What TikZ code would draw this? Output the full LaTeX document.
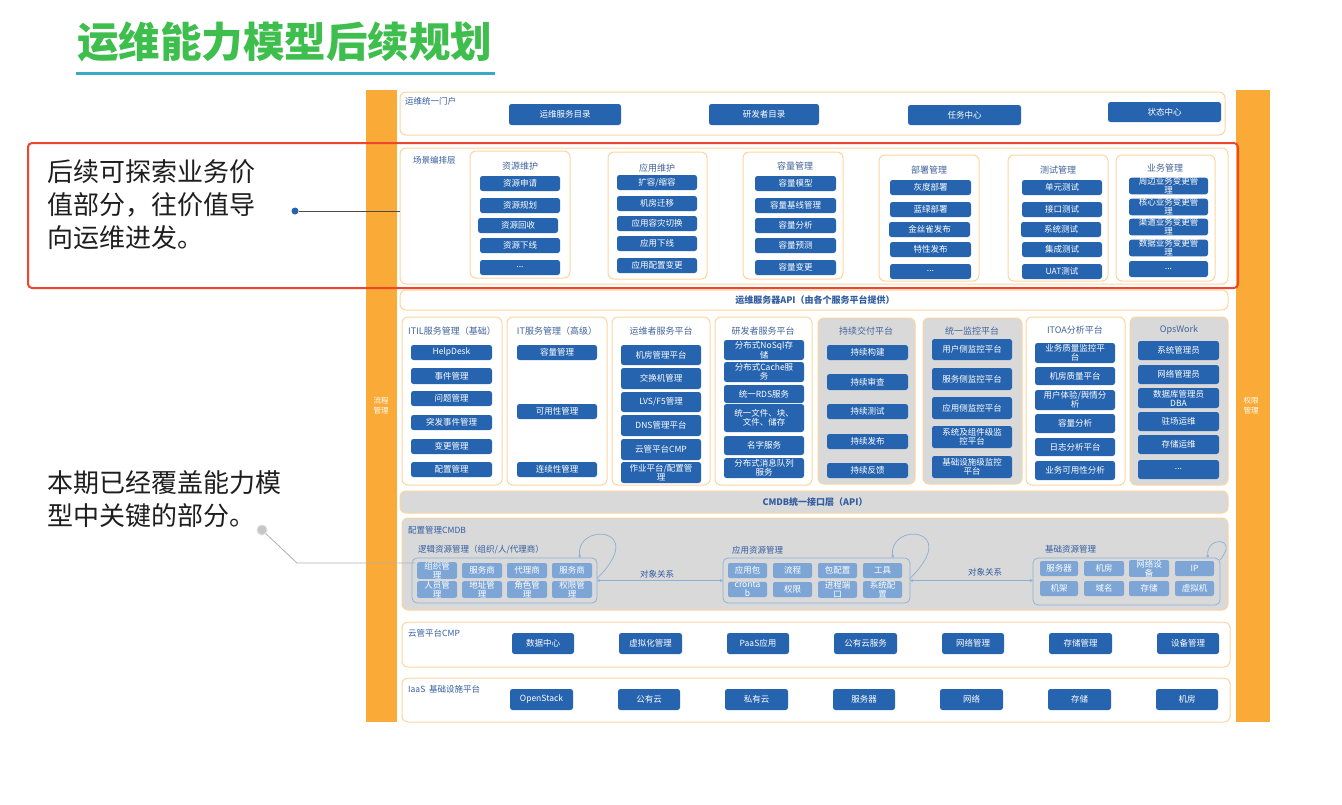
\documentclass[tikz,border=0pt]{standalone}
\usepackage{fontspec}
\setmainfont{Noto Sans CJK SC}
\usetikzlibrary{arrows.meta}
\definecolor{btnb}{RGB}{38,100,175}
\definecolor{lblue}{RGB}{125,166,215}
\definecolor{obord}{RGB}{252,213,158}
\definecolor{obar}{RGB}{250,170,55}
\definecolor{redf}{RGB}{238,70,45}
\definecolor{tgreen}{RGB}{62,190,76}
\definecolor{tline}{RGB}{55,170,200}
\definecolor{gfill}{RGB}{217,217,217}
\definecolor{labb}{RGB}{50,92,160}
\definecolor{loopc}{RGB}{140,175,215}
\definecolor{annot}{RGB}{30,30,30}
\newcommand\bx[7]{%
 \pgfmathsetmacro\cxx{(#3+#5)/2}\pgfmathsetmacro\cyy{(#4+#6)/2}%
 \pgfmathsetmacro\ww{#5-#3}\pgfmathsetmacro\hh{#6-#4}%
 \node[#1, minimum width=\ww pt, minimum height=\hh pt] (#2) at (\cxx,\cyy) {#7};}
\begin{document}
\begin{tikzpicture}[x=1pt,y=-1pt,
 layer/.style={draw=obord, line width=1pt, fill=white, rounded corners=6pt, inner sep=0, outer sep=0},
 glayer/.style={layer, fill=gfill},
 grp/.style={draw=obord, line width=1pt, fill=white, rounded corners=6pt, inner sep=0, outer sep=0},
 ggrp/.style={grp, fill=gfill},
 btn/.style={fill=btnb, rounded corners=2.5pt, text=white, font=\fontsize{8.5}{9}\selectfont, align=center, inner sep=0, outer sep=0},
 lbtn/.style={fill=lblue, rounded corners=2pt, text=white, font=\fontsize{8.5}{9}\selectfont, align=center, inner sep=0, outer sep=0},
 lbl/.style={text=labb, font=\fontsize{8.5}{10}\selectfont, anchor=west, inner sep=0},
 gtitle/.style={text=labb!80!gray, font=\fontsize{9}{10}\selectfont, inner sep=0},
 inbox/.style={draw=loopc, line width=0.7pt, rounded corners=5pt, inner sep=0, outer sep=0},
 rel/.style={draw=loopc, line width=0.7pt, {Stealth[length=3pt,width=3pt]}-{Stealth[length=3pt,width=3pt]}},
 selfarc/.style={draw=loopc, line width=0.7pt, {Stealth[length=3pt,width=3pt]}-},
 annottext/.style={anchor=base west, inner sep=0, text=annot, font=\fontsize{26}{30}\selectfont},
 bartext/.style={text=white, font=\fontsize{7.5}{10}\selectfont, align=center, inner sep=0}
]
\useasboundingbox (0,0) rectangle (1342,804);
\fill[white] (0,0) rectangle (1342,804);

% title
\node[anchor=base west, inner sep=0, text=tgreen, font=\fontsize{41.5}{44}\selectfont\bfseries] (title) at (77,57) {运维能力模型后续规划};
\draw[tline, line width=3pt] (76,73) -- (495,73);

% side bars
\bx{fill=obar, inner sep=0, outer sep=0}{lbar}{366}{90}{397}{722}{}
\bx{fill=obar, inner sep=0, outer sep=0}{rbar}{1236}{90}{1270}{722}{}
\node[bartext] (lbarT) at (381,406) {流程\\管理};
\node[bartext] (rbarT) at (1251,406) {权限\\管理};

% portal layer
\bx{layer}{portal}{400}{92}{1225}{135}{}
\node[lbl] (portalL) at (405,101) {运维统一门户};
\bx{btn}{p1}{509}{104}{621}{125}{运维服务目录}
\bx{btn}{p2}{709}{104}{819}{125}{研发者目录}
\bx{btn}{p3}{908}{105}{1021}{125}{任务中心}
\bx{btn}{p4}{1108}{102}{1221}{122}{状态中心}

% scene layer
\bx{layer}{scene}{400}{148}{1228}{284}{}
\node[lbl] (sceneL) at (413,160) {场景编排层};
% g1
\bx{grp}{g1}{470}{151}{570}{278}{}
\node[gtitle] (g1t) at (520,166) {资源维护};
\bx{btn}{g1a}{480}{176}{560}{191}{资源申请}
\bx{btn}{g1b}{480}{198}{560}{213}{资源规划}
\bx{btn}{g1c}{478}{218}{558}{233}{资源回收}
\bx{btn}{g1d}{480}{238}{560}{253}{资源下线}
\bx{btn}{g1e}{480}{260}{560}{275}{...}
% g2
\bx{grp}{g2}{608}{152}{707}{279}{}
\node[gtitle] (g2t) at (657,168) {应用维护};
\bx{btn}{g2a}{617}{175}{697}{190}{扩容/缩容}
\bx{btn}{g2b}{617}{196}{697}{211}{机房迁移}
\bx{btn}{g2c}{617}{216}{697}{231}{应用容灾切换}
\bx{btn}{g2d}{617}{236}{697}{251}{应用下线}
\bx{btn}{g2e}{617}{258}{697}{273}{应用配置变更}
% g3
\bx{grp}{g3}{743}{152}{843}{279}{}
\node[gtitle] (g3t) at (795,166) {容量管理};
\bx{btn}{g3a}{755}{176}{836}{191}{容量模型}
\bx{btn}{g3b}{755}{198}{836}{213}{容量基线管理}
\bx{btn}{g3c}{755}{218}{836}{233}{容量分析}
\bx{btn}{g3d}{755}{238}{836}{253}{容量预测}
\bx{btn}{g3e}{755}{260}{836}{275}{容量变更}
% g4
\bx{grp}{g4}{879}{155}{979}{281}{}
\node[gtitle] (g4t) at (929,170) {部署管理};
\bx{btn}{g4a}{890}{180}{971}{195}{灰度部署}
\bx{btn}{g4b}{890}{202}{971}{217}{蓝绿部署}
\bx{btn}{g4c}{889}{222}{970}{237}{金丝雀发布}
\bx{btn}{g4d}{890}{242}{971}{257}{特性发布}
\bx{btn}{g4e}{890}{264}{971}{279}{...}
% g5
\bx{grp}{g5}{1008}{155}{1108}{281}{}
\node[gtitle] (g5t) at (1058,170) {测试管理};
\bx{btn}{g5a}{1022}{180}{1102}{195}{单元测试}
\bx{btn}{g5b}{1022}{202}{1102}{217}{接口测试}
\bx{btn}{g5c}{1021}{222}{1101}{237}{系统测试}
\bx{btn}{g5d}{1022}{242}{1102}{257}{集成测试}
\bx{btn}{g5e}{1022}{264}{1102}{279}{UAT测试}
% g6
\bx{grp}{g6}{1116}{155}{1215}{281}{}
\node[gtitle] (g6t) at (1165,168) {业务管理};
\bx{btn}{g6a}{1129}{178}{1208}{194}{周边业务变更管\\理}
\bx{btn}{g6b}{1129}{199}{1208}{215}{核心业务变更管\\理}
\bx{btn}{g6c}{1129}{219}{1208}{235}{渠道业务变更管\\理}
\bx{btn}{g6d}{1129}{240}{1208}{256}{数据业务变更管\\理}
\bx{btn}{g6e}{1129}{261}{1208}{277}{...}

% API bar
\bx{layer}{api}{400}{290}{1228}{310}{}
\node[inner sep=0, text=labb, font=\fontsize{9}{10}\selectfont\bfseries] (apiT) at (815,300) {运维服务器API（由各个服务平台提供）};

% platform groups
\bx{grp}{q1}{402}{317}{502}{485}{}
\node[gtitle] (q1t) at (452,331) {ITIL服务管理（基础）};
\bx{btn}{q1a}{411}{345}{492}{360}{HelpDesk}
\bx{btn}{q1b}{411}{368}{492}{384}{事件管理}
\bx{btn}{q1c}{411}{391}{492}{406}{问题管理}
\bx{btn}{q1d}{411}{415}{492}{430}{突发事件管理}
\bx{btn}{q1e}{411}{439}{492}{454}{变更管理}
\bx{btn}{q1f}{411}{462}{492}{477}{配置管理}

\bx{grp}{q2}{507}{317}{607}{485}{}
\node[gtitle] (q2t) at (557,331) {IT服务管理（高级）};
\bx{btn}{q2a}{517}{345}{597}{360}{容量管理}
\bx{btn}{q2b}{517}{404}{597}{419}{可用性管理}
\bx{btn}{q2c}{517}{462}{597}{477}{连续性管理}

\bx{grp}{q3}{612}{317}{710}{485}{}
\node[gtitle] (q3t) at (661,331) {运维者服务平台};
\bx{btn}{q3a}{621}{345}{701}{365}{机房管理平台}
\bx{btn}{q3b}{621}{368}{701}{389}{交换机管理}
\bx{btn}{q3c}{621}{392}{701}{412}{LVS/F5管理}
\bx{btn}{q3d}{621}{415}{701}{436}{DNS管理平台}
\bx{btn}{q3e}{621}{439}{701}{460}{云管平台CMP}
\bx{btn}{q3f}{621}{462}{701}{483}{作业平台/配置管\\理}

\bx{grp}{q4}{715}{317}{812}{485}{}
\node[gtitle] (q4t) at (763,331) {研发者服务平台};
\bx{btn}{q4a}{724}{340}{804}{360}{分布式NoSql存\\储}
\bx{btn}{q4b}{724}{362}{804}{382}{分布式Cache服\\务}
\bx{btn}{q4c}{724}{385}{804}{403}{统一RDS服务}
\bx{btn}{q4d}{724}{404}{804}{432}{统一文件、块、\\文件、储存}
\bx{btn}{q4e}{724}{436}{804}{455}{名字服务}
\bx{btn}{q4f}{724}{458}{804}{478}{分布式消息队列\\服务}

\bx{ggrp}{q5}{818}{318}{915}{484}{}
\node[gtitle] (q5t) at (866,331) {持续交付平台};
\bx{btn}{q5a}{827}{345}{908}{360}{持续构建}
\bx{btn}{q5b}{827}{374}{908}{390}{持续审查}
\bx{btn}{q5c}{827}{404}{908}{419}{持续测试}
\bx{btn}{q5d}{827}{434}{908}{449}{持续发布}
\bx{btn}{q5e}{827}{463}{908}{478}{持续反馈}

\bx{ggrp}{q6}{923}{318}{1022}{484}{}
\node[gtitle] (q6t) at (972,331) {统一监控平台};
\bx{btn}{q6a}{932}{339}{1012}{360}{用户侧监控平台}
\bx{btn}{q6b}{932}{368}{1012}{390}{服务侧监控平台}
\bx{btn}{q6c}{932}{397}{1012}{419}{应用侧监控平台}
\bx{btn}{q6d}{932}{426}{1012}{448}{系统及组件级监\\控平台}
\bx{btn}{q6e}{932}{456}{1012}{478}{基础设施级监控\\平台}

\bx{grp}{q7}{1026}{317}{1125}{485}{}
\node[gtitle] (q7t) at (1075,330) {ITOA分析平台};
\bx{btn}{q7a}{1035}{343}{1115}{363}{业务质量监控平\\台}
\bx{btn}{q7b}{1035}{367}{1115}{385}{机房质量平台}
\bx{btn}{q7c}{1035}{390}{1115}{410}{用户体验/舆情分\\析}
\bx{btn}{q7d}{1035}{414}{1115}{433}{容量分析}
\bx{btn}{q7e}{1035}{438}{1115}{456}{日志分析平台}
\bx{btn}{q7f}{1035}{461}{1115}{480}{业务可用性分析}

\bx{ggrp}{q8}{1130}{317}{1228}{485}{}
\node[gtitle] (q8t) at (1179,330) {OpsWork};
\bx{btn}{q8a}{1138}{341}{1219}{360}{系统管理员}
\bx{btn}{q8b}{1138}{365}{1219}{384}{网络管理员}
\bx{btn}{q8c}{1138}{388}{1219}{408}{数据库管理员\\DBA}
\bx{btn}{q8d}{1138}{412}{1219}{431}{驻场运维}
\bx{btn}{q8e}{1138}{435}{1219}{454}{存储运维}
\bx{btn}{q8f}{1138}{460}{1219}{479}{...}

% CMDB API bar
\bx{glayer}{capi}{400}{491}{1228}{513}{}
\node[inner sep=0, text=labb, font=\fontsize{9}{10}\selectfont\bfseries] (capiT) at (815,502) {CMDB统一接口层（API）};

% CMDB layer
\bx{glayer}{cmdb}{402}{518}{1228}{610}{}
\node[lbl] (cmdbL) at (408,530) {配置管理CMDB};
\node[lbl] (logicL) at (418,550) {逻辑资源管理（组织/人/代理商）};
\node[lbl] (appL) at (732,550) {应用资源管理};
\node[lbl] (baseL) at (1045,549) {基础资源管理};
\bx{inbox}{logic}{412}{558}{597}{603}{}
\bx{inbox}{app}{723}{558}{910}{603}{}
\bx{inbox}{base}{1033}{558}{1220}{605}{}
% logic items
\bx{lbtn}{la1}{417}{563}{457}{578}{组织管\\理}
\bx{lbtn}{la2}{462}{563}{502}{578}{服务商}
\bx{lbtn}{la3}{507}{563}{547}{578}{代理商}
\bx{lbtn}{la4}{552}{563}{592}{578}{服务商}
\bx{lbtn}{lb1}{417}{582}{457}{597}{人员管\\理}
\bx{lbtn}{lb2}{462}{582}{502}{597}{地址管\\理}
\bx{lbtn}{lb3}{507}{582}{547}{597}{角色管\\理}
\bx{lbtn}{lb4}{552}{582}{592}{597}{权限管\\理}
% app items
\bx{lbtn}{aa1}{728}{563}{767}{578}{应用包}
\bx{lbtn}{aa2}{773}{563}{812}{578}{流程}
\bx{lbtn}{aa3}{818}{563}{857}{578}{包配置}
\bx{lbtn}{aa4}{863}{563}{902}{578}{工具}
\bx{lbtn}{ab1}{728}{582}{767}{597}{cronta\\b}
\bx{lbtn}{ab2}{773}{582}{812}{597}{权限}
\bx{lbtn}{ab3}{818}{582}{857}{597}{进程端\\口}
\bx{lbtn}{ab4}{863}{582}{902}{597}{系统配\\置}
% base items
\bx{lbtn}{ba1}{1040}{561}{1078}{576}{服务器}
\bx{lbtn}{ba2}{1084}{561}{1124}{576}{机房}
\bx{lbtn}{ba3}{1129}{561}{1169}{576}{网络设\\备}
\bx{lbtn}{ba4}{1175}{561}{1214}{576}{IP}
\bx{lbtn}{bb1}{1040}{581}{1078}{596}{机架}
\bx{lbtn}{bb2}{1084}{581}{1124}{596}{域名}
\bx{lbtn}{bb3}{1129}{581}{1169}{596}{存储}
\bx{lbtn}{bb4}{1175}{581}{1214}{596}{虚拟机}
% relations
\draw[rel] (logic.east) -- (app.west);
\draw[rel] (app.east) -- (base.west |- app.east);
\node[inner sep=0, text=labb, font=\fontsize{8.5}{10}\selectfont] (rel1) at (657,574) {对象关系};
\node[inner sep=0, text=labb, font=\fontsize{8.5}{10}\selectfont] (rel2) at (985,572) {对象关系};
% self loops
\draw[selfarc] ([xshift=-17pt]logic.north east) .. controls (574,522) and (650,526) .. ([yshift=2pt]logic.east);
\draw[selfarc] ([xshift=-17pt]app.north east) .. controls (887,522) and (963,526) .. ([yshift=2pt]app.east);
\draw[selfarc] ([xshift=-12pt]base.north east) .. controls (1205,536) and (1240,536) .. ([yshift=-2pt]base.north east);

% cloud layer
\bx{layer}{cloud}{402}{622}{1230}{667}{}
\node[lbl] (cloudL) at (408,633) {云管平台CMP};
\bx{btn}{c1}{512}{633}{574}{654}{数据中心}
\bx{btn}{c2}{619}{633}{682}{654}{虚拟化管理}
\bx{btn}{c3}{727}{633}{789}{654}{PaaS应用}
\bx{btn}{c4}{834}{633}{897}{654}{公有云服务}
\bx{btn}{c5}{942}{633}{1004}{654}{网络管理}
\bx{btn}{c6}{1049}{633}{1112}{654}{存储管理}
\bx{btn}{c7}{1157}{633}{1219}{654}{设备管理}

% IaaS layer
\bx{layer}{iaas}{402}{678}{1230}{722}{}
\node[lbl] (iaasL) at (408,689) {IaaS\ \ 基础设施平台};
\bx{btn}{i1}{510}{689}{573}{710}{OpenStack}
\bx{btn}{i2}{618}{689}{680}{710}{公有云}
\bx{btn}{i3}{725}{689}{788}{710}{私有云}
\bx{btn}{i4}{833}{689}{895}{710}{服务器}
\bx{btn}{i5}{940}{689}{1003}{710}{网络}
\bx{btn}{i6}{1048}{689}{1111}{710}{存储}
\bx{btn}{i7}{1156}{689}{1218}{710}{机房}

% red frame
\bx{draw=redf, line width=2pt, rounded corners=4pt, inner sep=0, outer sep=0}{redframe}{28}{143}{1238}{288}{}

% annotations
\node[annottext] (a1) at (47,181.5) {后续可探索业务价};
\node[annottext] (a2) at (47,214.5) {值部分，往价值导};
\node[annottext] (a3) at (47,247.5) {向运维进发。};
\node[circle, fill=btnb, inner sep=0, minimum size=7pt] (bdot) at (295,211) {};
\draw[annot!80, line width=0.8pt] (bdot) -- (scene.west |- bdot);

\node[annottext] (b1) at (47,492.5) {本期已经覆盖能力模};
\node[annottext] (b2) at (47,525.5) {型中关键的部分。};
\node[circle, fill=gray!45, draw=gray!25, line width=1pt, inner sep=0, minimum size=10pt] (gdot) at (262,530) {};
\coordinate (gEnd) at (415,563);
\draw[gray!60, line width=0.8pt] (gdot) -- (297,563) -- (gEnd);
\end{tikzpicture}
\end{document}
